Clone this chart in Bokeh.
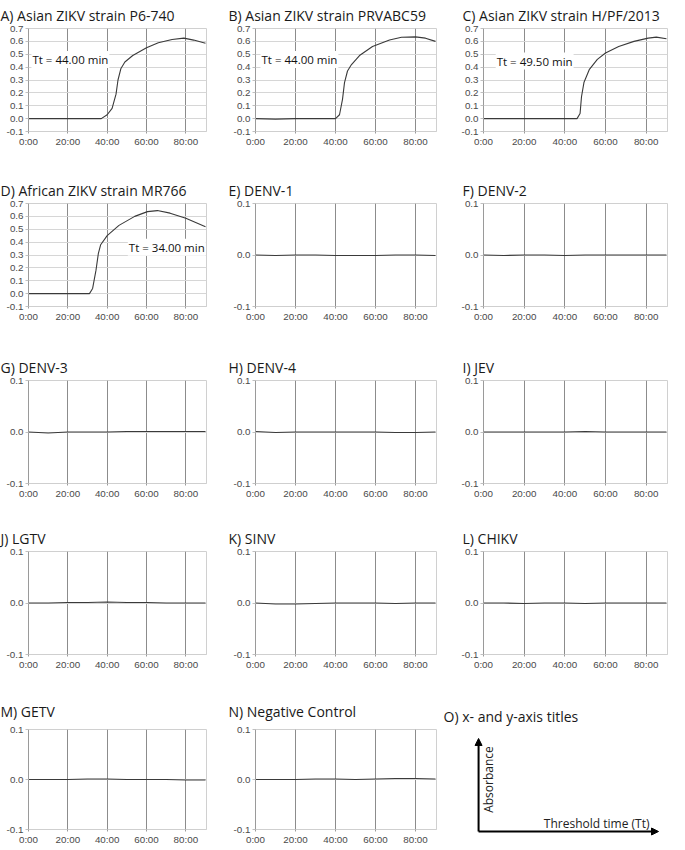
import math
from bokeh.plotting import figure
from bokeh.layouts import column, row
from bokeh.models import (FixedTicker, PrintfTickFormatter, Label, Arrow,
                          NormalHead, Range1d)
from bokeh.embed import file_html
from bokeh.resources import INLINE

# ---------------- data ----------------
X_TICKS = [0, 20, 40, 60, 80]
X_TICK_LABELS = ["0:00", "20:00", "40:00", "60:00", "80:00"]
ZIKV_Y_TICKS = [-0.1, 0.0, 0.1, 0.2, 0.3, 0.4, 0.5, 0.6, 0.7]
FLAT_Y_TICKS = [-0.1, 0.0, 0.1]

# ZIKV curves (time in minutes, absorbance)
a_time = [0, 10, 20, 30, 37, 40, 42.5, 44.5, 45.5, 47, 49, 53, 60, 66, 73, 79, 84, 90]
a_abs = [0, 0, 0, 0, 0, 0.03, 0.08, 0.19, 0.30, 0.39, 0.44, 0.49, 0.55, 0.59, 0.615, 0.625, 0.61, 0.585]

b_time = [0, 10, 20, 30, 40, 42, 43.5, 44.5, 46, 48, 52, 58.5, 67, 73, 80, 85, 90]
b_abs = [0, -0.004, 0, 0, 0, 0.03, 0.15, 0.28, 0.37, 0.42, 0.49, 0.56, 0.61, 0.632, 0.635, 0.625, 0.60]

c_time = [0, 10, 20, 30, 40, 46, 47.5, 48.2, 49.4, 52, 56, 60, 66.5, 74, 81, 85, 90]
c_abs = [0, 0, 0, 0, 0, 0, 0.04, 0.17, 0.28, 0.38, 0.46, 0.51, 0.56, 0.60, 0.625, 0.633, 0.62]

d_time = [0, 10, 20, 31, 32.6, 34.3, 35.5, 36.7, 40, 46, 54, 60.5, 65.5, 72, 80, 90]
d_abs = [0, 0, 0, 0, 0.04, 0.18, 0.31, 0.38, 0.45, 0.53, 0.60, 0.637, 0.645, 0.625, 0.585, 0.52]

# non-ZIKV panels: flat traces near zero
flat_time = [0, 10, 20, 30, 40, 50, 60, 70, 80, 90]
e_abs = [0.0, -0.001, 0.0, 0.0, -0.001, -0.001, -0.001, 0.0, 0.0, -0.001]
f_abs = [0.0, -0.001, 0.0, 0.0, -0.001, 0.0, 0.0, 0.0, 0.0, 0.0]
g_abs = [0.0, -0.002, 0.0, 0.0, 0.0, 0.001, 0.001, 0.001, 0.001, 0.001]
h_abs = [0.001, -0.001, 0.0, 0.0, 0.0, 0.0, 0.0, -0.001, -0.001, 0.0]
i_abs = [0.0, 0.0, 0.0, 0.0, 0.0, 0.001, 0.0, 0.0, 0.0, 0.0]
j_abs = [0.0, 0.0, 0.001, 0.001, 0.002, 0.001, 0.001, 0.0, 0.0, 0.0]
k_abs = [0.0, -0.002, -0.002, -0.001, 0.0, 0.0, 0.0, -0.001, 0.0, 0.0]
l_abs = [0.0, 0.0, -0.001, 0.0, 0.0, -0.001, 0.0, 0.0, 0.0, 0.0]
m_abs = [0.0, 0.0, 0.0, 0.001, 0.001, 0.0, 0.0, 0.0, -0.001, -0.001]
n_abs = [0.0, 0.0, 0.0, 0.001, 0.001, 0.0, 0.001, 0.002, 0.002, 0.001]

PANELS = [
    ("A) Asian ZIKV strain P6-740", a_time, a_abs, "zikv", "Tt = 44.00 min"),
    ("B) Asian ZIKV strain PRVABC59", b_time, b_abs, "zikv", "Tt = 44.00 min"),
    ("C) Asian ZIKV strain H/PF/2013", c_time, c_abs, "zikv", "Tt = 49.50 min"),
    ("D) African ZIKV strain MR766", d_time, d_abs, "zikv", "Tt = 34.00 min"),
    ("E) DENV-1", flat_time, e_abs, "flat", None),
    ("F) DENV-2", flat_time, f_abs, "flat", None),
    ("G) DENV-3", flat_time, g_abs, "flat", None),
    ("H) DENV-4", flat_time, h_abs, "flat", None),
    ("I) JEV", flat_time, i_abs, "flat", None),
    ("J) LGTV", flat_time, j_abs, "flat", None),
    ("K) SINV", flat_time, k_abs, "flat", None),
    ("L) CHIKV", flat_time, l_abs, "flat", None),
    ("M) GETV", flat_time, m_abs, "flat", None),
    ("N) Negative Control", flat_time, n_abs, "flat", None),
]
O_TITLE = "O) x- and y-axis titles"
O_YLABEL = "Absorbance"
O_XLABEL = "Threshold time (Tt)"

# ---------------- layout / style ----------------
TT_POS = {0: (1.5, 0.46), 1: (2.5, 0.46), 2: (6.0, 0.447), 3: (50.5, 0.36)}
# (left border, frame width, right border) per column
COLS = [(28, 178, 22), (27, 181, 22), (23, 184, 4)]
COL_OVERRIDE = {13: (27, 181, 5)}
# (top border, frame height, bottom border, title standoff) per row
ROWS = [(26, 103, 44, 7), (26, 103, 46, 7), (26, 103, 40, 7),
        (26, 103, 37, 7), (36, 100, 15, 17)]
TITLE_OFFSETS = [-28, -27, -21]

TITLE_FONT = "Open Sans"
TITLE_SIZE = "14px"
TICK_FONT = "Liberation Sans"
TICK_SIZE = "9.8px"


def style_title(p, offset, standoff):
    p.title.text_font = TITLE_FONT
    p.title.text_font_size = TITLE_SIZE
    p.title.text_font_style = "normal"
    p.title.text_color = "#1a1a1a"
    p.title.align = "left"
    p.title.offset = offset
    p.title.standoff = standoff


def make_panel(idx):
    title, t, v, kind, tt = PANELS[idx]
    c, r = idx % 3, idx // 3
    bl, fw, br = COL_OVERRIDE.get(idx, COLS[c])
    bt, fh, bb, so = ROWS[r]
    if kind == "zikv":
        ymin, ymax, yticks = -0.1, 0.7, ZIKV_Y_TICKS
    else:
        ymin, ymax, yticks = -0.1, 0.1, FLAT_Y_TICKS
    p = figure(frame_width=fw, frame_height=fh,
               min_border_left=bl, min_border_right=br,
               min_border_top=bt, min_border_bottom=bb,
               x_range=Range1d(0, 90.5), y_range=Range1d(ymin, ymax),
               output_backend="svg", toolbar_location=None, title=title)
    style_title(p, TITLE_OFFSETS[c], so)

    p.xaxis.ticker = FixedTicker(ticks=X_TICKS)
    p.xaxis.major_label_overrides = dict(zip(X_TICKS, X_TICK_LABELS))
    p.yaxis.ticker = FixedTicker(ticks=yticks)
    p.yaxis.formatter = PrintfTickFormatter(format="%.1f")
    for ax in (p.xaxis, p.yaxis):
        ax.major_label_text_font = TICK_FONT
        ax.major_label_text_font_size = TICK_SIZE
        ax.major_label_text_color = "#4a4a4a"
        ax.minor_tick_line_color = None
        ax.major_tick_in = 0
    p.yaxis.axis_line_color = "#9a9a9a"
    p.yaxis.major_tick_out = 3
    p.yaxis.major_tick_line_color = "#c0c0c0"
    p.yaxis.major_label_standoff = 2
    p.xaxis.axis_line_color = "#cfcfcf"
    p.xaxis.major_tick_out = 2
    p.xaxis.major_tick_line_color = "#9a9a9a"
    p.xaxis.major_label_standoff = 2

    p.xgrid.grid_line_color = "#8c8c8c"
    p.ygrid.grid_line_color = "#d6d6d6"
    p.outline_line_color = "#d0d0d0"

    p.line(t, v, line_color="#3a3a3a", line_width=1.1)

    if tt is not None:
        x, y = TT_POS[idx]
        p.add_layout(Label(x=x, y=y, text=tt, text_font=TITLE_FONT,
                           text_font_size="11.5px", text_color="#111111",
                           text_baseline="middle", text_align="left",
                           background_fill_color="white", padding=1))
    return p


def make_axes_key():
    p = figure(frame_width=196, frame_height=115,
               min_border_left=31, min_border_right=1,
               min_border_top=36, min_border_bottom=0,
               x_range=Range1d(0, 1), y_range=Range1d(0, 1),
               output_backend="svg", toolbar_location=None, title=O_TITLE)
    style_title(p, -29, 7)
    p.axis.visible = False
    p.grid.visible = False
    p.outline_line_color = None
    p.add_layout(Arrow(end=NormalHead(size=7, fill_color="black", line_color="black"),
                       x_start=0.031, y_start=0.113, x_end=0.031, y_end=0.922,
                       line_width=2, line_color="black"))
    p.add_layout(Arrow(end=NormalHead(size=7, fill_color="black", line_color="black"),
                       x_start=0.031, y_start=0.113, x_end=0.949, y_end=0.113,
                       line_width=2, line_color="black"))
    p.add_layout(Label(x=0.082, y=0.565, text=O_YLABEL, angle=math.pi / 2,
                       text_font=TITLE_FONT, text_font_size="12px",
                       text_color="#222222", text_align="center",
                       text_baseline="middle"))
    p.add_layout(Label(x=0.903, y=0.183, text=O_XLABEL,
                       text_font=TITLE_FONT, text_font_size="12px",
                       text_color="#222222", text_align="right",
                       text_baseline="middle"))
    return p


figs = [make_panel(i) for i in range(len(PANELS))] + [make_axes_key()]
layout = column(*[row(*figs[i:i + 3]) for i in range(0, 15, 3)])

open("out.html", "w").write(file_html(layout, INLINE))
